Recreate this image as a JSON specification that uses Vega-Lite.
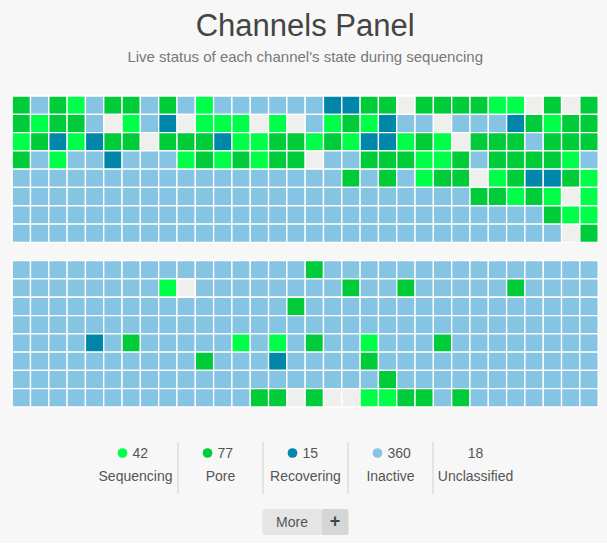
{
"$schema": "https://vega.github.io/schema/vega-lite/v6.json",
"background": "#f7f7f7",
"padding": {"left": 11, "top": 11, "right": 9, "bottom": 8},
"config": {"view": {"stroke": null}, "font": "Liberation Sans"},
"title": {"text": "Channels Panel", "subtitle": "Live status of each channel's state during sequencing", "anchor": "middle", "font": "Liberation Sans", "fontSize": 31, "fontWeight": "normal", "color": "#444444", "subtitleFont": "Liberation Sans", "subtitleFontSize": 15, "subtitleColor": "#777777", "subtitlePadding": 7, "offset": 29},
"resolve": {"scale": {"color": "independent"}},
"spacing": 33,
"center": true,
"vconcat": [
{
"width": 586, "height": 311,
"data": {"values": [
{"row":1,"col":1,"state":"Pore"},{"row":1,"col":2,"state":"Inactive"},{"row":1,"col":3,"state":"Pore"},{"row":1,"col":4,"state":"Sequencing"},{"row":1,"col":5,"state":"Inactive"},{"row":1,"col":6,"state":"Pore"},{"row":1,"col":7,"state":"Pore"},{"row":1,"col":8,"state":"Inactive"},
{"row":1,"col":9,"state":"Pore"},{"row":1,"col":10,"state":"Inactive"},{"row":1,"col":11,"state":"Sequencing"},{"row":1,"col":12,"state":"Inactive"},{"row":1,"col":13,"state":"Inactive"},{"row":1,"col":14,"state":"Inactive"},{"row":1,"col":15,"state":"Inactive"},{"row":1,"col":16,"state":"Inactive"},
{"row":1,"col":17,"state":"Inactive"},{"row":1,"col":18,"state":"Recovering"},{"row":1,"col":19,"state":"Recovering"},{"row":1,"col":20,"state":"Pore"},{"row":1,"col":21,"state":"Pore"},{"row":1,"col":22,"state":"Unclassified"},{"row":1,"col":23,"state":"Pore"},{"row":1,"col":24,"state":"Pore"},
{"row":1,"col":25,"state":"Pore"},{"row":1,"col":26,"state":"Pore"},{"row":1,"col":27,"state":"Sequencing"},{"row":1,"col":28,"state":"Sequencing"},{"row":1,"col":29,"state":"Unclassified"},{"row":1,"col":30,"state":"Pore"},{"row":1,"col":31,"state":"Unclassified"},{"row":1,"col":32,"state":"Pore"},
{"row":2,"col":1,"state":"Pore"},{"row":2,"col":2,"state":"Sequencing"},{"row":2,"col":3,"state":"Pore"},{"row":2,"col":4,"state":"Pore"},{"row":2,"col":5,"state":"Inactive"},{"row":2,"col":6,"state":"Unclassified"},{"row":2,"col":7,"state":"Sequencing"},{"row":2,"col":8,"state":"Inactive"},
{"row":2,"col":9,"state":"Recovering"},{"row":2,"col":10,"state":"Unclassified"},{"row":2,"col":11,"state":"Sequencing"},{"row":2,"col":12,"state":"Sequencing"},{"row":2,"col":13,"state":"Sequencing"},{"row":2,"col":14,"state":"Unclassified"},{"row":2,"col":15,"state":"Sequencing"},{"row":2,"col":16,"state":"Unclassified"},
{"row":2,"col":17,"state":"Inactive"},{"row":2,"col":18,"state":"Sequencing"},{"row":2,"col":19,"state":"Pore"},{"row":2,"col":20,"state":"Sequencing"},{"row":2,"col":21,"state":"Recovering"},{"row":2,"col":22,"state":"Inactive"},{"row":2,"col":23,"state":"Inactive"},{"row":2,"col":24,"state":"Unclassified"},
{"row":2,"col":25,"state":"Inactive"},{"row":2,"col":26,"state":"Inactive"},{"row":2,"col":27,"state":"Inactive"},{"row":2,"col":28,"state":"Recovering"},{"row":2,"col":29,"state":"Pore"},{"row":2,"col":30,"state":"Sequencing"},{"row":2,"col":31,"state":"Pore"},{"row":2,"col":32,"state":"Pore"},
{"row":3,"col":1,"state":"Sequencing"},{"row":3,"col":2,"state":"Pore"},{"row":3,"col":3,"state":"Recovering"},{"row":3,"col":4,"state":"Sequencing"},{"row":3,"col":5,"state":"Recovering"},{"row":3,"col":6,"state":"Pore"},{"row":3,"col":7,"state":"Pore"},{"row":3,"col":8,"state":"Unclassified"},
{"row":3,"col":9,"state":"Pore"},{"row":3,"col":10,"state":"Pore"},{"row":3,"col":11,"state":"Pore"},{"row":3,"col":12,"state":"Recovering"},{"row":3,"col":13,"state":"Sequencing"},{"row":3,"col":14,"state":"Sequencing"},{"row":3,"col":15,"state":"Pore"},{"row":3,"col":16,"state":"Pore"},
{"row":3,"col":17,"state":"Sequencing"},{"row":3,"col":18,"state":"Pore"},{"row":3,"col":19,"state":"Sequencing"},{"row":3,"col":20,"state":"Recovering"},{"row":3,"col":21,"state":"Recovering"},{"row":3,"col":22,"state":"Sequencing"},{"row":3,"col":23,"state":"Pore"},{"row":3,"col":24,"state":"Sequencing"},
{"row":3,"col":25,"state":"Unclassified"},{"row":3,"col":26,"state":"Pore"},{"row":3,"col":27,"state":"Pore"},{"row":3,"col":28,"state":"Pore"},{"row":3,"col":29,"state":"Inactive"},{"row":3,"col":30,"state":"Pore"},{"row":3,"col":31,"state":"Pore"},{"row":3,"col":32,"state":"Pore"},
{"row":4,"col":1,"state":"Pore"},{"row":4,"col":2,"state":"Inactive"},{"row":4,"col":3,"state":"Sequencing"},{"row":4,"col":4,"state":"Inactive"},{"row":4,"col":5,"state":"Inactive"},{"row":4,"col":6,"state":"Recovering"},{"row":4,"col":7,"state":"Inactive"},{"row":4,"col":8,"state":"Inactive"},
{"row":4,"col":9,"state":"Inactive"},{"row":4,"col":10,"state":"Sequencing"},{"row":4,"col":11,"state":"Pore"},{"row":4,"col":12,"state":"Sequencing"},{"row":4,"col":13,"state":"Pore"},{"row":4,"col":14,"state":"Sequencing"},{"row":4,"col":15,"state":"Pore"},{"row":4,"col":16,"state":"Pore"},
{"row":4,"col":17,"state":"Unclassified"},{"row":4,"col":18,"state":"Inactive"},{"row":4,"col":19,"state":"Inactive"},{"row":4,"col":20,"state":"Pore"},{"row":4,"col":21,"state":"Pore"},{"row":4,"col":22,"state":"Pore"},{"row":4,"col":23,"state":"Sequencing"},{"row":4,"col":24,"state":"Sequencing"},
{"row":4,"col":25,"state":"Pore"},{"row":4,"col":26,"state":"Inactive"},{"row":4,"col":27,"state":"Pore"},{"row":4,"col":28,"state":"Pore"},{"row":4,"col":29,"state":"Pore"},{"row":4,"col":30,"state":"Pore"},{"row":4,"col":31,"state":"Sequencing"},{"row":4,"col":32,"state":"Inactive"},
{"row":5,"col":1,"state":"Inactive"},{"row":5,"col":2,"state":"Inactive"},{"row":5,"col":3,"state":"Inactive"},{"row":5,"col":4,"state":"Inactive"},{"row":5,"col":5,"state":"Inactive"},{"row":5,"col":6,"state":"Inactive"},{"row":5,"col":7,"state":"Inactive"},{"row":5,"col":8,"state":"Inactive"},
{"row":5,"col":9,"state":"Inactive"},{"row":5,"col":10,"state":"Inactive"},{"row":5,"col":11,"state":"Inactive"},{"row":5,"col":12,"state":"Inactive"},{"row":5,"col":13,"state":"Inactive"},{"row":5,"col":14,"state":"Inactive"},{"row":5,"col":15,"state":"Inactive"},{"row":5,"col":16,"state":"Inactive"},
{"row":5,"col":17,"state":"Inactive"},{"row":5,"col":18,"state":"Inactive"},{"row":5,"col":19,"state":"Pore"},{"row":5,"col":20,"state":"Inactive"},{"row":5,"col":21,"state":"Pore"},{"row":5,"col":22,"state":"Inactive"},{"row":5,"col":23,"state":"Sequencing"},{"row":5,"col":24,"state":"Pore"},
{"row":5,"col":25,"state":"Pore"},{"row":5,"col":26,"state":"Unclassified"},{"row":5,"col":27,"state":"Sequencing"},{"row":5,"col":28,"state":"Pore"},{"row":5,"col":29,"state":"Recovering"},{"row":5,"col":30,"state":"Recovering"},{"row":5,"col":31,"state":"Pore"},{"row":5,"col":32,"state":"Sequencing"},
{"row":6,"col":1,"state":"Inactive"},{"row":6,"col":2,"state":"Inactive"},{"row":6,"col":3,"state":"Inactive"},{"row":6,"col":4,"state":"Inactive"},{"row":6,"col":5,"state":"Inactive"},{"row":6,"col":6,"state":"Inactive"},{"row":6,"col":7,"state":"Inactive"},{"row":6,"col":8,"state":"Inactive"},
{"row":6,"col":9,"state":"Inactive"},{"row":6,"col":10,"state":"Inactive"},{"row":6,"col":11,"state":"Inactive"},{"row":6,"col":12,"state":"Inactive"},{"row":6,"col":13,"state":"Inactive"},{"row":6,"col":14,"state":"Inactive"},{"row":6,"col":15,"state":"Inactive"},{"row":6,"col":16,"state":"Inactive"},
{"row":6,"col":17,"state":"Inactive"},{"row":6,"col":18,"state":"Inactive"},{"row":6,"col":19,"state":"Inactive"},{"row":6,"col":20,"state":"Inactive"},{"row":6,"col":21,"state":"Inactive"},{"row":6,"col":22,"state":"Inactive"},{"row":6,"col":23,"state":"Inactive"},{"row":6,"col":24,"state":"Inactive"},
{"row":6,"col":25,"state":"Inactive"},{"row":6,"col":26,"state":"Pore"},{"row":6,"col":27,"state":"Pore"},{"row":6,"col":28,"state":"Sequencing"},{"row":6,"col":29,"state":"Pore"},{"row":6,"col":30,"state":"Sequencing"},{"row":6,"col":31,"state":"Unclassified"},{"row":6,"col":32,"state":"Sequencing"},
{"row":7,"col":1,"state":"Inactive"},{"row":7,"col":2,"state":"Inactive"},{"row":7,"col":3,"state":"Inactive"},{"row":7,"col":4,"state":"Inactive"},{"row":7,"col":5,"state":"Inactive"},{"row":7,"col":6,"state":"Inactive"},{"row":7,"col":7,"state":"Inactive"},{"row":7,"col":8,"state":"Inactive"},
{"row":7,"col":9,"state":"Inactive"},{"row":7,"col":10,"state":"Inactive"},{"row":7,"col":11,"state":"Inactive"},{"row":7,"col":12,"state":"Inactive"},{"row":7,"col":13,"state":"Inactive"},{"row":7,"col":14,"state":"Inactive"},{"row":7,"col":15,"state":"Inactive"},{"row":7,"col":16,"state":"Inactive"},
{"row":7,"col":17,"state":"Inactive"},{"row":7,"col":18,"state":"Inactive"},{"row":7,"col":19,"state":"Inactive"},{"row":7,"col":20,"state":"Inactive"},{"row":7,"col":21,"state":"Inactive"},{"row":7,"col":22,"state":"Inactive"},{"row":7,"col":23,"state":"Inactive"},{"row":7,"col":24,"state":"Inactive"},
{"row":7,"col":25,"state":"Inactive"},{"row":7,"col":26,"state":"Inactive"},{"row":7,"col":27,"state":"Inactive"},{"row":7,"col":28,"state":"Inactive"},{"row":7,"col":29,"state":"Inactive"},{"row":7,"col":30,"state":"Pore"},{"row":7,"col":31,"state":"Sequencing"},{"row":7,"col":32,"state":"Sequencing"},
{"row":8,"col":1,"state":"Inactive"},{"row":8,"col":2,"state":"Inactive"},{"row":8,"col":3,"state":"Inactive"},{"row":8,"col":4,"state":"Inactive"},{"row":8,"col":5,"state":"Inactive"},{"row":8,"col":6,"state":"Inactive"},{"row":8,"col":7,"state":"Inactive"},{"row":8,"col":8,"state":"Inactive"},
{"row":8,"col":9,"state":"Inactive"},{"row":8,"col":10,"state":"Inactive"},{"row":8,"col":11,"state":"Inactive"},{"row":8,"col":12,"state":"Inactive"},{"row":8,"col":13,"state":"Inactive"},{"row":8,"col":14,"state":"Inactive"},{"row":8,"col":15,"state":"Inactive"},{"row":8,"col":16,"state":"Inactive"},
{"row":8,"col":17,"state":"Inactive"},{"row":8,"col":18,"state":"Inactive"},{"row":8,"col":19,"state":"Inactive"},{"row":8,"col":20,"state":"Inactive"},{"row":8,"col":21,"state":"Inactive"},{"row":8,"col":22,"state":"Inactive"},{"row":8,"col":23,"state":"Inactive"},{"row":8,"col":24,"state":"Inactive"},
{"row":8,"col":25,"state":"Inactive"},{"row":8,"col":26,"state":"Inactive"},{"row":8,"col":27,"state":"Inactive"},{"row":8,"col":28,"state":"Inactive"},{"row":8,"col":29,"state":"Inactive"},{"row":8,"col":30,"state":"Inactive"},{"row":8,"col":31,"state":"Unclassified"},{"row":8,"col":32,"state":"Pore"},
{"row":9,"col":1,"state":"Inactive"},{"row":9,"col":2,"state":"Inactive"},{"row":9,"col":3,"state":"Inactive"},{"row":9,"col":4,"state":"Inactive"},{"row":9,"col":5,"state":"Inactive"},{"row":9,"col":6,"state":"Inactive"},{"row":9,"col":7,"state":"Inactive"},{"row":9,"col":8,"state":"Inactive"},
{"row":9,"col":9,"state":"Inactive"},{"row":9,"col":10,"state":"Inactive"},{"row":9,"col":11,"state":"Inactive"},{"row":9,"col":12,"state":"Inactive"},{"row":9,"col":13,"state":"Inactive"},{"row":9,"col":14,"state":"Inactive"},{"row":9,"col":15,"state":"Inactive"},{"row":9,"col":16,"state":"Inactive"},
{"row":9,"col":17,"state":"Pore"},{"row":9,"col":18,"state":"Inactive"},{"row":9,"col":19,"state":"Inactive"},{"row":9,"col":20,"state":"Inactive"},{"row":9,"col":21,"state":"Inactive"},{"row":9,"col":22,"state":"Inactive"},{"row":9,"col":23,"state":"Inactive"},{"row":9,"col":24,"state":"Inactive"},
{"row":9,"col":25,"state":"Inactive"},{"row":9,"col":26,"state":"Inactive"},{"row":9,"col":27,"state":"Inactive"},{"row":9,"col":28,"state":"Inactive"},{"row":9,"col":29,"state":"Inactive"},{"row":9,"col":30,"state":"Inactive"},{"row":9,"col":31,"state":"Inactive"},{"row":9,"col":32,"state":"Inactive"},
{"row":10,"col":1,"state":"Inactive"},{"row":10,"col":2,"state":"Inactive"},{"row":10,"col":3,"state":"Inactive"},{"row":10,"col":4,"state":"Inactive"},{"row":10,"col":5,"state":"Inactive"},{"row":10,"col":6,"state":"Inactive"},{"row":10,"col":7,"state":"Inactive"},{"row":10,"col":8,"state":"Inactive"},
{"row":10,"col":9,"state":"Sequencing"},{"row":10,"col":10,"state":"Unclassified"},{"row":10,"col":11,"state":"Inactive"},{"row":10,"col":12,"state":"Inactive"},{"row":10,"col":13,"state":"Inactive"},{"row":10,"col":14,"state":"Inactive"},{"row":10,"col":15,"state":"Inactive"},{"row":10,"col":16,"state":"Inactive"},
{"row":10,"col":17,"state":"Inactive"},{"row":10,"col":18,"state":"Inactive"},{"row":10,"col":19,"state":"Pore"},{"row":10,"col":20,"state":"Inactive"},{"row":10,"col":21,"state":"Inactive"},{"row":10,"col":22,"state":"Pore"},{"row":10,"col":23,"state":"Inactive"},{"row":10,"col":24,"state":"Inactive"},
{"row":10,"col":25,"state":"Inactive"},{"row":10,"col":26,"state":"Inactive"},{"row":10,"col":27,"state":"Inactive"},{"row":10,"col":28,"state":"Pore"},{"row":10,"col":29,"state":"Inactive"},{"row":10,"col":30,"state":"Inactive"},{"row":10,"col":31,"state":"Inactive"},{"row":10,"col":32,"state":"Inactive"},
{"row":11,"col":1,"state":"Inactive"},{"row":11,"col":2,"state":"Inactive"},{"row":11,"col":3,"state":"Inactive"},{"row":11,"col":4,"state":"Inactive"},{"row":11,"col":5,"state":"Inactive"},{"row":11,"col":6,"state":"Inactive"},{"row":11,"col":7,"state":"Inactive"},{"row":11,"col":8,"state":"Inactive"},
{"row":11,"col":9,"state":"Inactive"},{"row":11,"col":10,"state":"Inactive"},{"row":11,"col":11,"state":"Inactive"},{"row":11,"col":12,"state":"Inactive"},{"row":11,"col":13,"state":"Inactive"},{"row":11,"col":14,"state":"Inactive"},{"row":11,"col":15,"state":"Inactive"},{"row":11,"col":16,"state":"Pore"},
{"row":11,"col":17,"state":"Inactive"},{"row":11,"col":18,"state":"Inactive"},{"row":11,"col":19,"state":"Inactive"},{"row":11,"col":20,"state":"Inactive"},{"row":11,"col":21,"state":"Inactive"},{"row":11,"col":22,"state":"Inactive"},{"row":11,"col":23,"state":"Inactive"},{"row":11,"col":24,"state":"Inactive"},
{"row":11,"col":25,"state":"Inactive"},{"row":11,"col":26,"state":"Inactive"},{"row":11,"col":27,"state":"Inactive"},{"row":11,"col":28,"state":"Inactive"},{"row":11,"col":29,"state":"Inactive"},{"row":11,"col":30,"state":"Inactive"},{"row":11,"col":31,"state":"Inactive"},{"row":11,"col":32,"state":"Inactive"},
{"row":12,"col":1,"state":"Inactive"},{"row":12,"col":2,"state":"Inactive"},{"row":12,"col":3,"state":"Inactive"},{"row":12,"col":4,"state":"Inactive"},{"row":12,"col":5,"state":"Inactive"},{"row":12,"col":6,"state":"Inactive"},{"row":12,"col":7,"state":"Inactive"},{"row":12,"col":8,"state":"Inactive"},
{"row":12,"col":9,"state":"Inactive"},{"row":12,"col":10,"state":"Inactive"},{"row":12,"col":11,"state":"Inactive"},{"row":12,"col":12,"state":"Inactive"},{"row":12,"col":13,"state":"Inactive"},{"row":12,"col":14,"state":"Inactive"},{"row":12,"col":15,"state":"Inactive"},{"row":12,"col":16,"state":"Inactive"},
{"row":12,"col":17,"state":"Inactive"},{"row":12,"col":18,"state":"Inactive"},{"row":12,"col":19,"state":"Inactive"},{"row":12,"col":20,"state":"Inactive"},{"row":12,"col":21,"state":"Inactive"},{"row":12,"col":22,"state":"Inactive"},{"row":12,"col":23,"state":"Inactive"},{"row":12,"col":24,"state":"Inactive"},
{"row":12,"col":25,"state":"Inactive"},{"row":12,"col":26,"state":"Inactive"},{"row":12,"col":27,"state":"Inactive"},{"row":12,"col":28,"state":"Inactive"},{"row":12,"col":29,"state":"Inactive"},{"row":12,"col":30,"state":"Inactive"},{"row":12,"col":31,"state":"Inactive"},{"row":12,"col":32,"state":"Inactive"},
{"row":13,"col":1,"state":"Inactive"},{"row":13,"col":2,"state":"Inactive"},{"row":13,"col":3,"state":"Inactive"},{"row":13,"col":4,"state":"Inactive"},{"row":13,"col":5,"state":"Recovering"},{"row":13,"col":6,"state":"Inactive"},{"row":13,"col":7,"state":"Pore"},{"row":13,"col":8,"state":"Inactive"},
{"row":13,"col":9,"state":"Inactive"},{"row":13,"col":10,"state":"Inactive"},{"row":13,"col":11,"state":"Inactive"},{"row":13,"col":12,"state":"Inactive"},{"row":13,"col":13,"state":"Sequencing"},{"row":13,"col":14,"state":"Inactive"},{"row":13,"col":15,"state":"Sequencing"},{"row":13,"col":16,"state":"Inactive"},
{"row":13,"col":17,"state":"Pore"},{"row":13,"col":18,"state":"Inactive"},{"row":13,"col":19,"state":"Inactive"},{"row":13,"col":20,"state":"Sequencing"},{"row":13,"col":21,"state":"Inactive"},{"row":13,"col":22,"state":"Inactive"},{"row":13,"col":23,"state":"Inactive"},{"row":13,"col":24,"state":"Pore"},
{"row":13,"col":25,"state":"Inactive"},{"row":13,"col":26,"state":"Inactive"},{"row":13,"col":27,"state":"Inactive"},{"row":13,"col":28,"state":"Inactive"},{"row":13,"col":29,"state":"Inactive"},{"row":13,"col":30,"state":"Inactive"},{"row":13,"col":31,"state":"Inactive"},{"row":13,"col":32,"state":"Inactive"},
{"row":14,"col":1,"state":"Inactive"},{"row":14,"col":2,"state":"Inactive"},{"row":14,"col":3,"state":"Inactive"},{"row":14,"col":4,"state":"Inactive"},{"row":14,"col":5,"state":"Inactive"},{"row":14,"col":6,"state":"Inactive"},{"row":14,"col":7,"state":"Inactive"},{"row":14,"col":8,"state":"Inactive"},
{"row":14,"col":9,"state":"Inactive"},{"row":14,"col":10,"state":"Inactive"},{"row":14,"col":11,"state":"Pore"},{"row":14,"col":12,"state":"Inactive"},{"row":14,"col":13,"state":"Inactive"},{"row":14,"col":14,"state":"Inactive"},{"row":14,"col":15,"state":"Recovering"},{"row":14,"col":16,"state":"Inactive"},
{"row":14,"col":17,"state":"Inactive"},{"row":14,"col":18,"state":"Inactive"},{"row":14,"col":19,"state":"Inactive"},{"row":14,"col":20,"state":"Pore"},{"row":14,"col":21,"state":"Inactive"},{"row":14,"col":22,"state":"Inactive"},{"row":14,"col":23,"state":"Inactive"},{"row":14,"col":24,"state":"Inactive"},
{"row":14,"col":25,"state":"Inactive"},{"row":14,"col":26,"state":"Inactive"},{"row":14,"col":27,"state":"Inactive"},{"row":14,"col":28,"state":"Inactive"},{"row":14,"col":29,"state":"Inactive"},{"row":14,"col":30,"state":"Inactive"},{"row":14,"col":31,"state":"Inactive"},{"row":14,"col":32,"state":"Inactive"},
{"row":15,"col":1,"state":"Inactive"},{"row":15,"col":2,"state":"Inactive"},{"row":15,"col":3,"state":"Inactive"},{"row":15,"col":4,"state":"Inactive"},{"row":15,"col":5,"state":"Inactive"},{"row":15,"col":6,"state":"Inactive"},{"row":15,"col":7,"state":"Inactive"},{"row":15,"col":8,"state":"Inactive"},
{"row":15,"col":9,"state":"Inactive"},{"row":15,"col":10,"state":"Inactive"},{"row":15,"col":11,"state":"Inactive"},{"row":15,"col":12,"state":"Inactive"},{"row":15,"col":13,"state":"Inactive"},{"row":15,"col":14,"state":"Inactive"},{"row":15,"col":15,"state":"Inactive"},{"row":15,"col":16,"state":"Inactive"},
{"row":15,"col":17,"state":"Inactive"},{"row":15,"col":18,"state":"Inactive"},{"row":15,"col":19,"state":"Inactive"},{"row":15,"col":20,"state":"Inactive"},{"row":15,"col":21,"state":"Pore"},{"row":15,"col":22,"state":"Inactive"},{"row":15,"col":23,"state":"Inactive"},{"row":15,"col":24,"state":"Inactive"},
{"row":15,"col":25,"state":"Inactive"},{"row":15,"col":26,"state":"Inactive"},{"row":15,"col":27,"state":"Inactive"},{"row":15,"col":28,"state":"Inactive"},{"row":15,"col":29,"state":"Inactive"},{"row":15,"col":30,"state":"Inactive"},{"row":15,"col":31,"state":"Inactive"},{"row":15,"col":32,"state":"Inactive"},
{"row":16,"col":1,"state":"Inactive"},{"row":16,"col":2,"state":"Inactive"},{"row":16,"col":3,"state":"Inactive"},{"row":16,"col":4,"state":"Inactive"},{"row":16,"col":5,"state":"Inactive"},{"row":16,"col":6,"state":"Inactive"},{"row":16,"col":7,"state":"Inactive"},{"row":16,"col":8,"state":"Inactive"},
{"row":16,"col":9,"state":"Inactive"},{"row":16,"col":10,"state":"Inactive"},{"row":16,"col":11,"state":"Inactive"},{"row":16,"col":12,"state":"Inactive"},{"row":16,"col":13,"state":"Inactive"},{"row":16,"col":14,"state":"Pore"},{"row":16,"col":15,"state":"Pore"},{"row":16,"col":16,"state":"Unclassified"},
{"row":16,"col":17,"state":"Pore"},{"row":16,"col":18,"state":"Unclassified"},{"row":16,"col":19,"state":"Unclassified"},{"row":16,"col":20,"state":"Sequencing"},{"row":16,"col":21,"state":"Sequencing"},{"row":16,"col":22,"state":"Pore"},{"row":16,"col":23,"state":"Pore"},{"row":16,"col":24,"state":"Inactive"},
{"row":16,"col":25,"state":"Pore"},{"row":16,"col":26,"state":"Inactive"},{"row":16,"col":27,"state":"Inactive"},{"row":16,"col":28,"state":"Inactive"},{"row":16,"col":29,"state":"Inactive"},{"row":16,"col":30,"state":"Inactive"},{"row":16,"col":31,"state":"Inactive"},{"row":16,"col":32,"state":"Inactive"}
]},
"mark": {"type": "rect", "stroke": "#ffffff", "strokeWidth": 1.3},
"encoding": {
"x": {"field": "col", "type": "ordinal", "axis": null, "scale": {"paddingInner": 0, "paddingOuter": 0}},
"y": {"field": "row", "type": "ordinal", "axis": null, "scale": {"domain": [1,2,3,4,5,6,7,8,"gap",9,10,11,12,13,14,15,16], "paddingInner": 0, "paddingOuter": 0}},
"color": {"field": "state", "type": "nominal", "legend": null, "scale": {"domain": ["Sequencing","Pore","Recovering","Inactive","Unclassified"], "range": ["#00ff48","#00cc3a","#0086a8","#85c5e3","#efefed"]}}
}
},
{
"spacing": 14,
"center": true,
"vconcat": [
{
"width": 425, "height": 52,
"data": {"values": [
{"state":"Sequencing","count":42},{"state":"Pore","count":77},{"state":"Recovering","count":15},{"state":"Inactive","count":360},{"state":"Unclassified","count":18}
]},
"layer": [
{"transform": [{"filter": "datum.state !== 'Unclassified'"}],
 "mark": {"type": "rule", "color": "#cfcfcf", "strokeWidth": 1},
 "encoding": {"x": {"field": "state", "type": "nominal", "bandPosition": 1, "axis": null, "scale": {"domain": ["Sequencing","Pore","Recovering","Inactive","Unclassified"], "paddingInner": 0, "paddingOuter": 0}}}},
{"transform": [{"filter": "datum.state !== 'Unclassified'"}],
 "mark": {"type": "circle", "size": 95, "opacity": 1, "xOffset": -13, "yOffset": -2},
 "encoding": {
  "x": {"field": "state", "type": "nominal", "axis": null, "scale": {"domain": ["Sequencing","Pore","Recovering","Inactive","Unclassified"], "paddingInner": 0, "paddingOuter": 0}},
  "y": {"datum": "count", "type": "ordinal", "axis": null, "scale": {"type": "point", "domain": ["count","name"], "padding": 0.5}},
  "color": {"field": "state", "type": "nominal", "legend": null, "scale": {"domain": ["Sequencing","Pore","Recovering","Inactive","Unclassified"], "range": ["#00ff48","#00cc3a","#0086a8","#85c5e3","#efefed"]}}}},
{"transform": [{"filter": "datum.state !== 'Unclassified'"}],
 "mark": {"type": "text", "align": "left", "baseline": "middle", "dx": -3, "dy": -1, "fontSize": 14, "color": "#555555", "font": "Liberation Sans"},
 "encoding": {
  "x": {"field": "state", "type": "nominal", "axis": null, "scale": {"domain": ["Sequencing","Pore","Recovering","Inactive","Unclassified"], "paddingInner": 0, "paddingOuter": 0}},
  "y": {"datum": "count", "type": "ordinal", "axis": null, "scale": {"type": "point", "domain": ["count","name"], "padding": 0.5}},
  "text": {"field": "count", "type": "quantitative"}}},
{"transform": [{"filter": "datum.state === 'Unclassified'"}],
 "mark": {"type": "text", "align": "center", "baseline": "middle", "dy": -1, "fontSize": 14, "color": "#555555", "font": "Liberation Sans"},
 "encoding": {
  "x": {"field": "state", "type": "nominal", "axis": null, "scale": {"domain": ["Sequencing","Pore","Recovering","Inactive","Unclassified"], "paddingInner": 0, "paddingOuter": 0}},
  "y": {"datum": "count", "type": "ordinal", "axis": null, "scale": {"type": "point", "domain": ["count","name"], "padding": 0.5}},
  "text": {"field": "count", "type": "quantitative"}}},
{"mark": {"type": "text", "align": "center", "baseline": "middle", "dy": -4, "fontSize": 14, "color": "#555555", "font": "Liberation Sans"},
 "encoding": {
  "x": {"field": "state", "type": "nominal", "axis": null, "scale": {"domain": ["Sequencing","Pore","Recovering","Inactive","Unclassified"], "paddingInner": 0, "paddingOuter": 0}},
  "y": {"datum": "name", "type": "ordinal", "axis": null, "scale": {"type": "point", "domain": ["count","name"], "padding": 0.5}},
  "text": {"field": "state", "type": "nominal"}}}
]
},
{
"spacing": 0,
"hconcat": [
{"width": 59, "height": 26, "view": {"fill": "#e5e5e5", "stroke": null, "cornerRadius": 2},
 "data": {"values": [{"label": "More"}]},
 "mark": {"type": "text", "fontSize": 14, "color": "#555555", "font": "Liberation Sans", "baseline": "middle", "dy": 1},
 "encoding": {"text": {"field": "label", "type": "nominal"}}},
{"width": 27, "height": 26, "view": {"fill": "#d6d6d6", "stroke": null, "cornerRadius": 2},
 "data": {"values": [{"label": "+"}]},
 "mark": {"type": "text", "fontSize": 18, "fontWeight": "bold", "color": "#3d4650", "font": "Liberation Sans", "baseline": "middle", "dy": 0},
 "encoding": {"text": {"field": "label", "type": "nominal"}}}
]
}
]
}
]
}
